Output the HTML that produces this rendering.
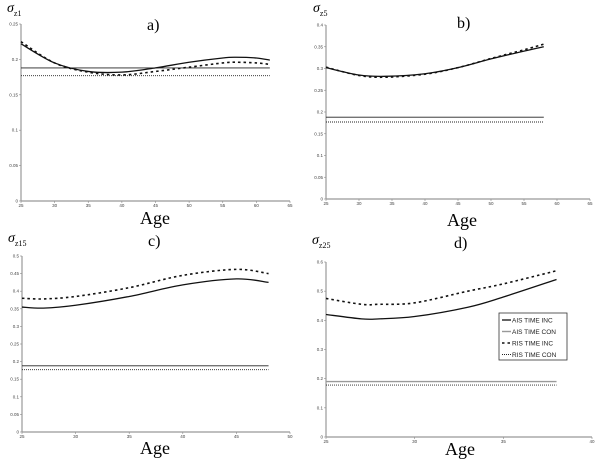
<!DOCTYPE html>
<html><head><meta charset="utf-8"><style>
body{margin:0;background:#fff;width:600px;height:465px;overflow:hidden}
svg{display:block}
text{font-family:"Liberation Serif",serif}
.tk{font-family:"Liberation Sans",sans-serif;font-size:4.5px;fill:#444}
.lgt{font-family:"Liberation Sans",sans-serif;font-size:6.5px;fill:#222}
</style></head><body>
<svg id="chart" width="600" height="465"></svg>
<script>
// Panel a
const aX=[25,30,35,40,45,50,55,57,60,62];
const aAisInc=[0.222,0.195,0.183,0.182,0.188,0.196,0.202,0.203,0.202,0.199];
const aRisInc=[0.225,0.195,0.182,0.178,0.183,0.189,0.195,0.196,0.195,0.193];
const aAisCon=0.188, aRisCon=0.177;
// Panel b
const bX=[25,30,34,40,45,50,55,58];
const bAisInc=[0.302,0.285,0.282,0.288,0.302,0.322,0.340,0.350];
const bRisInc=[0.303,0.284,0.280,0.287,0.302,0.323,0.343,0.356];
const bAisCon=0.188, bRisCon=0.177;
// Panel c
const cX=[25,27,30,35,40,45,48];
const cAisInc=[0.355,0.352,0.360,0.385,0.418,0.435,0.425];
const cRisInc=[0.380,0.378,0.385,0.410,0.445,0.462,0.450];
const cAisCon=0.188, cRisCon=0.177;
// Panel d
const dX=[25,27,28,30,33,35,38];
const dAisInc=[0.420,0.405,0.405,0.413,0.445,0.480,0.540];
const dRisInc=[0.475,0.455,0.455,0.460,0.500,0.525,0.570];
const dAisCon=0.190, dRisCon=0.178;
const legendLabels=["AIS TIME INC","AIS TIME CON","RIS TIME INC","RIS TIME CON"];

const NS="http://www.w3.org/2000/svg";
const svg=document.getElementById('chart');
function el(tag,attrs,parent,txt){const e=document.createElementNS(NS,tag);for(const k in attrs)e.setAttribute(k,attrs[k]);if(txt!==undefined)e.textContent=txt;(parent||svg).appendChild(e);return e;}
function smooth(pts){let d=`M${pts[0][0]},${pts[0][1]}`;for(let i=0;i<pts.length-1;i++){const p0=pts[i-1]||pts[i],p1=pts[i],p2=pts[i+1],p3=pts[i+2]||p2;
 d+=` C${p1[0]+(p2[0]-p0[0])/6},${p1[1]+(p2[1]-p0[1])/6} ${p2[0]-(p3[0]-p1[0])/6},${p2[1]-(p3[1]-p1[1])/6} ${p2[0]},${p2[1]}`;}return d;}
const styles={aisInc:{stroke:"#111","stroke-width":1.3},aisCon:{stroke:"#222","stroke-width":0.9},risInc:{stroke:"#111","stroke-width":1.6,"stroke-dasharray":"2.5,3"},risCon:{stroke:"#222","stroke-width":0.9,"stroke-dasharray":"1,1"}};
function panel(cfg){
 const g=el('g',{});
 const sx=v=>cfg.x0+(v-cfg.xmin)/(cfg.xmax-cfg.xmin)*(cfg.x1-cfg.x0);
 const sy=v=>cfg.y0-(v)/(cfg.ymax)*(cfg.y0-cfg.y1);
 el('line',{x1:cfg.x0,y1:cfg.y0,x2:cfg.x0,y2:cfg.y1,stroke:"#999","stroke-width":1.2,},g);
 el('line',{x1:cfg.x0,y1:cfg.y0,x2:cfg.x1,y2:cfg.y0,stroke:"#999","stroke-width":1.2,},g);
 cfg.yt.forEach(v=>{el('line',{x1:cfg.x0-2,x2:cfg.x0,y1:sy(v),y2:sy(v),stroke:"#888","stroke-width":0.6},g);
  el('text',{class:'tk',x:cfg.x0-3,y:sy(v)+1.5,'text-anchor':'end',},g,String(v));});
 cfg.xt.forEach(v=>{el('line',{x1:sx(v),x2:sx(v),y1:cfg.y0,y2:cfg.y0+2,stroke:"#888","stroke-width":0.6},g);
  el('text',{class:'tk',x:sx(v),y:cfg.y0+6,'text-anchor':'middle',},g,String(v));});
 const xl=cfg.xs[cfg.xs.length-1];
 const hl=(v,st,nm)=>{const a=Object.assign({x1:sx(cfg.xs[0]),x2:sx(xl),y1:sy(v),y2:sy(v),fill:"none",},st);el('line',a,g);};
 hl(cfg.aisCon,Object.assign({},styles.aisCon,cfg.id==='d'?{stroke:"#999","stroke-width":1.4}:{}),'ais-time-con-line');
 hl(cfg.risCon,styles.risCon,'ris-time-con-line');
 el('path',Object.assign({d:smooth(cfg.xs.map((x,i)=>[sx(x),sy(cfg.aisInc[i])])),fill:"none",},styles.aisInc),g);
 el('path',Object.assign({d:smooth(cfg.xs.map((x,i)=>[sx(x),sy(cfg.risInc[i])])),fill:"none",},styles.risInc),g);
 const t=el('text',{x:cfg.sigX,y:cfg.sigY,'font-size':14,'font-style':'italic',},g,'σ');
 el('tspan',{'font-size':8,'font-style':'normal',dy:4},t,cfg.sub);
 el('text',{x:cfg.labX,y:cfg.labY,'font-size':16,},g,cfg.id+')');
 el('text',{x:cfg.ageX,y:cfg.ageY,'font-size':18,'text-anchor':'middle',},g,'Age');
 return g;
}
panel({id:'a',x0:21,x1:290,y0:201,y1:24,xmin:25,xmax:65,ymax:0.25,xt:[25,30,35,40,45,50,55,60,65],yt:[0,0.05,0.1,0.15,0.2,0.25],xs:aX,aisInc:aAisInc,risInc:aRisInc,aisCon:aAisCon,risCon:aRisCon,sigX:7,sigY:12,sub:'z1',labX:147,labY:30,ageX:155,ageY:224});
panel({id:'b',x0:326,x1:590,y0:199,y1:25,xmin:25,xmax:65,ymax:0.4,xt:[25,30,35,40,45,50,55,60,65],yt:[0,0.05,0.1,0.15,0.2,0.25,0.3,0.35,0.4],xs:bX,aisInc:bAisInc,risInc:bRisInc,aisCon:bAisCon,risCon:bRisCon,sigX:313,sigY:12,sub:'z5',labX:457,labY:28,ageX:462,ageY:226});
panel({id:'c',x0:22,x1:290,y0:432,y1:256,xmin:25,xmax:50,ymax:0.5,xt:[25,30,35,40,45,50],yt:[0,0.05,0.1,0.15,0.2,0.25,0.3,0.35,0.4,0.45,0.5],xs:cX,aisInc:cAisInc,risInc:cRisInc,aisCon:cAisCon,risCon:cRisCon,sigX:8,sigY:242,sub:'z15',labX:148,labY:246,ageX:155,ageY:454});
panel({id:'d',x0:326,x1:592,y0:437,y1:262,xmin:25,xmax:40,ymax:0.6,xt:[25,30,35,40],yt:[0,0.1,0.2,0.3,0.4,0.5,0.6],xs:dX,aisInc:dAisInc,risInc:dRisInc,aisCon:dAisCon,risCon:dRisCon,sigX:312,sigY:244,sub:'z25',labX:454,labY:248,ageX:460,ageY:455});
// Legend
const lg=el('g',{});
el('rect',{x:499,y:313,width:68,height:47,fill:"#fff",stroke:"#333","stroke-width":0.8},lg);
const ls=[styles.aisInc,{stroke:"#999","stroke-width":1.4},styles.risInc,styles.risCon];
legendLabels.forEach((lab,i)=>{const y=320+i*11.5;
 el('line',Object.assign({x1:502,x2:511,y1:y,y2:y,},ls[i]),lg);
 el('text',{class:'lgt',x:512,y:y+2.3,},lg,lab);});
</script>
</body></html>
